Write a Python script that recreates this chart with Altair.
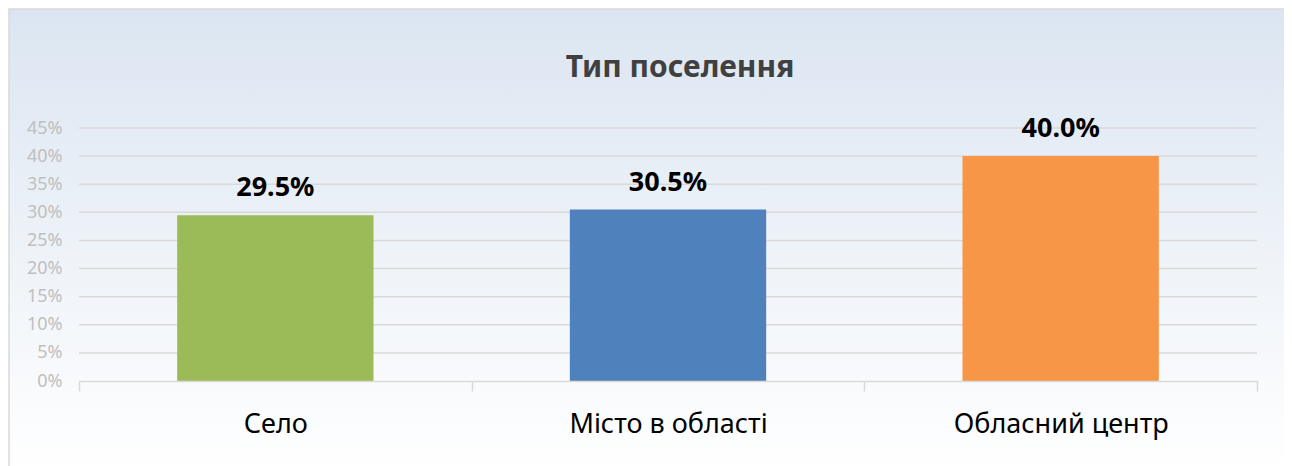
import altair as alt
import pandas as pd

categories = ["Село", "Місто в області", "Обласний центр"]
shares = [0.295, 0.305, 0.400]
colors = ["#9BBB59", "#4F81BD", "#F79646"]
y_ticks = [0.0, 0.05, 0.10, 0.15, 0.20, 0.25, 0.30, 0.35, 0.40, 0.45]

df = pd.DataFrame({"cat": categories, "share": shares})
grid_df = pd.DataFrame({"tick": y_ticks[1:]})

FONT = "Noto Sans"
W, H = 1178, 253
PL, PT, PR, PB = 71, 120, 27, 85

bg_gradient = alt.LinearGradient(
    gradient="linear",
    x1=0, y1=0, x2=0, y2=1,
    stops=[alt.GradientStop(color="#DBE5F1", offset=0),
           alt.GradientStop(color="#FFFFFF", offset=1)],
)

y_scale = alt.Scale(domain=[0, 0.45], nice=False)
x_scale = alt.Scale(domain=categories, paddingInner=0, paddingOuter=0)

x_axis = alt.Axis(
    title=None, labelAngle=0, labelFont=FONT, labelFontSize=27,
    labelColor="#000000", labelPadding=20, labelLimit=500, tickBand="extent",
    ticks=True, tickSize=10, tickColor="#D9D9D9", tickWidth=1.5,
    domainColor="#D9D9D9", domainWidth=1.5, grid=False, zindex=1,
)
y_axis = alt.Axis(
    title=None, values=y_ticks, format=".0%", labelFont=FONT,
    labelFontSize=18, labelColor="#BFBFBF", labelPadding=17,
    labelOverlap=False, domain=False, ticks=False, grid=False, zindex=1,
)

bg = alt.Chart(alt.Data(values=[{"k": 1}])).mark_rect(
    color=bg_gradient, stroke="#D9D9D9", strokeWidth=1.5
).encode(
    x=alt.value(-PL + 1), x2=alt.value(W + PR + 20),
    y=alt.value(-PT + 1), y2=alt.value(H + PB + 5),
)

grid = alt.Chart(grid_df).mark_rule(color="#D9D9D9", strokeWidth=1.5).encode(
    y=alt.Y("tick:Q", scale=y_scale, axis=y_axis),
)

bars = alt.Chart(df).mark_bar(width=alt.RelativeBandSize(0.5)).encode(
    x=alt.X("cat:N", sort=categories, scale=x_scale, axis=x_axis),
    y=alt.Y("share:Q", scale=y_scale, axis=y_axis),
    color=alt.Color("cat:N", scale=alt.Scale(domain=categories, range=colors), legend=None),
)

labels = alt.Chart(df).mark_text(
    font=FONT, fontSize=27, fontWeight="bold", color="#000000",
    baseline="alphabetic", dy=-19,
).encode(
    x=alt.X("cat:N", sort=categories, scale=x_scale, axis=x_axis),
    y=alt.Y("share:Q", scale=y_scale, axis=y_axis),
    text=alt.Text("share:Q", format=".1%"),
)

chart = alt.layer(bg, grid, bars, labels).properties(
    width=W, height=H,
    autosize=alt.AutoSizeParams(type="none"),
    padding={"left": PL, "top": PT, "right": PR, "bottom": PB},
    title=alt.TitleParams(
        "Тип поселення", font=FONT, fontSize=30, fontWeight="bold",
        color="#404040", offset=0, dy=75, dx=12, frame="group", zindex=1,
    ),
).configure_view(stroke=None).configure(background="#FFFFFF")

chart.save("out.html", embed_options={"renderer": "svg", "actions": False})
